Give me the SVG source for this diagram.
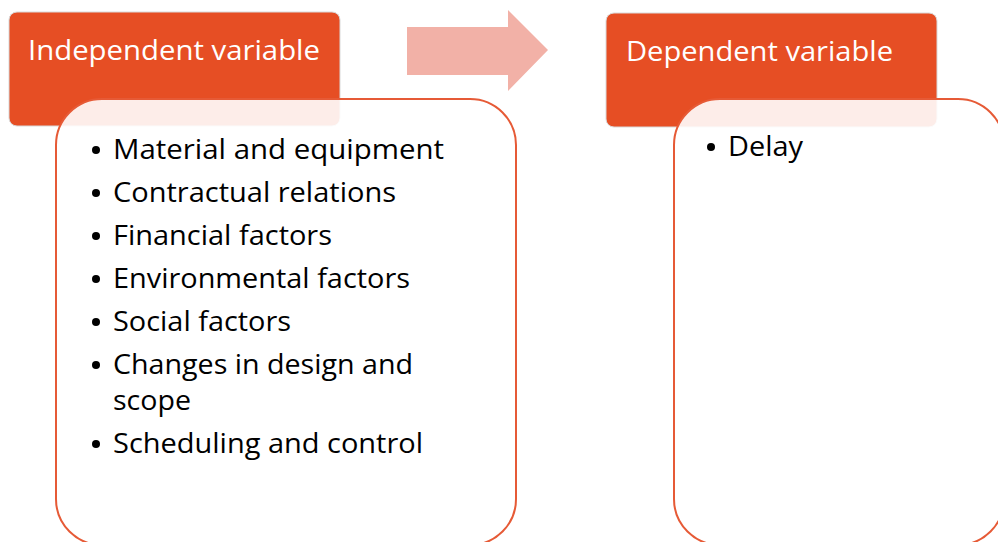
<svg xmlns="http://www.w3.org/2000/svg" width="998" height="542" viewBox="0 0 998 542">
  <style>
    .head { fill: #E64E24; stroke: #D9D9D9; stroke-width: 1; }
    .head-text { font-family: "Open Sans", "Liberation Sans", sans-serif; font-size: 27px; fill: #FFFFFF; }
    .body { fill: #FFFFFF; fill-opacity: 0.9; stroke: #E65A36; stroke-width: 2; }
    .item { font-family: "Open Sans", "Liberation Sans", sans-serif; font-size: 27px; fill: #000000; }
    .arrow { fill: #F2B1A7; }
  </style>

  <rect width="998" height="542" fill="#FFFFFF"/>

  <!-- Independent variable -->
  <g id="independent">
    <rect class="head" x="9" y="12" width="331" height="114" rx="8"/>
    <text class="head-text" x="28" y="60" textLength="292" lengthAdjust="spacingAndGlyphs">Independent variable</text>
    <rect class="body" x="56" y="99" width="460" height="446" rx="46"/>
    <g class="item">
      <circle cx="96" cy="150" r="4"/>
      <text x="113" y="159" textLength="331" lengthAdjust="spacingAndGlyphs">Material and equipment</text>
      <circle cx="96" cy="193" r="4"/>
      <text x="113" y="202" textLength="283" lengthAdjust="spacingAndGlyphs">Contractual relations</text>
      <circle cx="96" cy="236" r="4"/>
      <text x="113" y="245" textLength="219" lengthAdjust="spacingAndGlyphs">Financial factors</text>
      <circle cx="96" cy="279" r="4"/>
      <text x="113" y="288" textLength="297" lengthAdjust="spacingAndGlyphs">Environmental factors</text>
      <circle cx="96" cy="322" r="4"/>
      <text x="113" y="331" textLength="178" lengthAdjust="spacingAndGlyphs">Social factors</text>
      <circle cx="96" cy="365" r="4"/>
      <text x="113" y="374" textLength="300" lengthAdjust="spacingAndGlyphs">Changes in design and</text>
      <text x="113" y="410" textLength="78" lengthAdjust="spacingAndGlyphs">scope</text>
      <circle cx="96" cy="444" r="4"/>
      <text x="113" y="453" textLength="310" lengthAdjust="spacingAndGlyphs">Scheduling and control</text>
    </g>
  </g>

  <!-- Connector -->
  <g id="connectors">
    <path class="arrow" d="M407 27 H508 V10 L548 50 L508 91 V75 H407 Z"/>
  </g>

  <!-- Dependent variable -->
  <g id="dependent">
    <rect class="head" x="606" y="13" width="331" height="114" rx="8"/>
    <text class="head-text" x="626" y="61" textLength="267" lengthAdjust="spacingAndGlyphs">Dependent variable</text>
    <rect class="body" x="674" y="99" width="330" height="446" rx="46"/>
    <g class="item">
      <circle cx="711" cy="147" r="4"/>
      <text x="728" y="156" textLength="75" lengthAdjust="spacingAndGlyphs">Delay</text>
    </g>
  </g>
</svg>
